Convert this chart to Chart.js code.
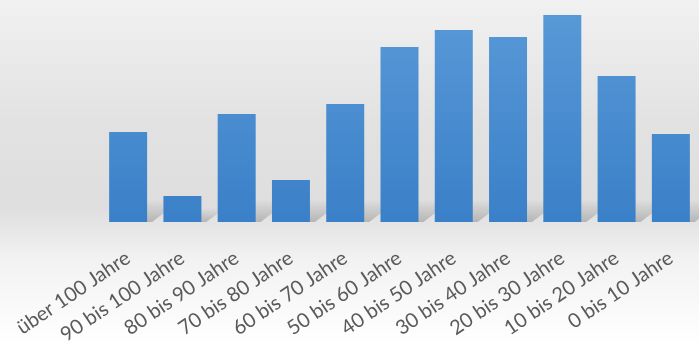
<!DOCTYPE html>
<html>
<head>
<meta charset="utf-8">
<script src="https://cdn.jsdelivr.net/npm/chart.js@4.4.1/dist/chart.umd.min.js"></script>
<style>
  html, body { margin: 0; padding: 0; background: #fff; }
  #wrap { width: 699px; height: 345px; position: relative; }
</style>
</head>
<body>
<div id="wrap"><canvas id="myChart"></canvas></div>
<script>
// Altersgruppen (Kategorien) und Werte
var kategorien = ['über 100 Jahre', '90 bis 100 Jahre', '80 bis 90 Jahre', '70 bis 80 Jahre',
    '60 bis 70 Jahre', '50 bis 60 Jahre', '40 bis 50 Jahre', '30 bis 40 Jahre',
    '20 bis 30 Jahre', '10 bis 20 Jahre', '0 bis 10 Jahre'];
var werte = [90, 26, 108, 42, 118, 175, 192, 185, 207, 146, 88];
var yMax = 222;

var hintergrund = {
    id: 'hintergrund',
    beforeDraw: function (chart) {
        var ctx = chart.ctx;
        var g = ctx.createLinearGradient(0, 0, 0, chart.height);
        g.addColorStop(0, '#f1f1f1');
        g.addColorStop(0.35, '#e2e2e2');
        g.addColorStop(0.6, '#dedede');
        g.addColorStop(0.75, '#f2f2f2');
        g.addColorStop(1, '#ffffff');
        ctx.save();
        ctx.fillStyle = g;
        ctx.fillRect(0, 0, chart.width, chart.height);
        ctx.restore();
    },
    beforeDatasetsDraw: function (chart) {
        // schräger Schatten hinter den Säulen
        var ctx = chart.ctx;
        var meta = chart.getDatasetMeta(0);
        ctx.save();
        meta.data.forEach(function (bar) {
            var w = bar.width;
            var x0 = bar.x - w / 2;
            var x1 = bar.x + w / 2;
            var b = bar.base;
            var h = Math.min(b - bar.y, 40) * 0.55;
            var g = ctx.createLinearGradient(0, b - h, 0, b);
            g.addColorStop(0, 'rgba(150,150,150,0)');
            g.addColorStop(1, 'rgba(150,150,150,0.6)');
            ctx.fillStyle = g;
            ctx.beginPath();
            ctx.moveTo(x0, b);
            ctx.lineTo(x1 + 5, b);
            ctx.lineTo(x1 + 5 + h * 1.3, b - h);
            ctx.lineTo(x0 + h * 1.3, b - h);
            ctx.closePath();
            ctx.fill();
        });
        ctx.restore();
    }
};

function balkenFarbe(context) {
    var chart = context.chart;
    var area = chart.chartArea;
    if (!area) return '#4a8fd4';
    var g = chart.ctx.createLinearGradient(0, area.top, 0, area.bottom);
    g.addColorStop(0, '#5a9ad8');
    g.addColorStop(1, '#3a80c8');
    return g;
}

var ctx = document.getElementById('myChart').getContext('2d');
var myChart = new Chart(ctx, {
    type: 'bar',
    data: {
        labels: kategorien,
        datasets: [{
            data: werte,
            backgroundColor: balkenFarbe,
            borderWidth: 0,
            barPercentage: 0.7,
            categoryPercentage: 1.0
        }]
    },
    options: {
        responsive: true,
        maintainAspectRatio: false,
        animation: false,
        layout: { padding: { top: 0, right: 1, left: 101, bottom: 0 } },
        plugins: {
            legend: { display: false },
            tooltip: { enabled: false }
        },
        scales: {
            y: {
                display: false,
                min: 0,
                max: yMax
            },
            x: {
                grid: { display: false },
                border: { display: false },
                afterFit: function (scale) {
                    scale.height = 123;
                    scale.paddingLeft = 0;
                    scale.paddingRight = 0;
                },
                ticks: {
                    minRotation: 34,
                    maxRotation: 34,
                    padding: 16,
                    color: '#5a5a5a',
                    font: { family: 'Lato', size: 20 }
                }
            }
        }
    },
    plugins: [hintergrund]
});
</script>
</body>
</html>
